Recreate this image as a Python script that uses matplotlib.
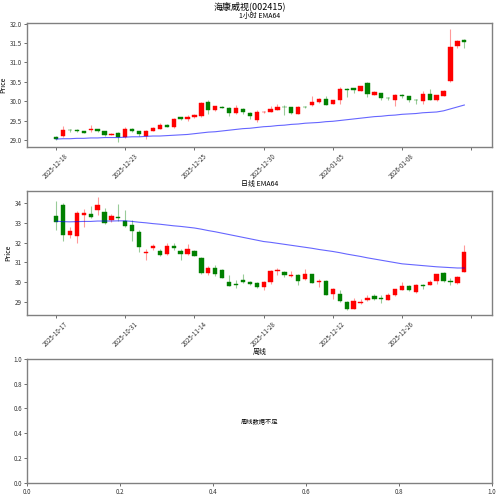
import numpy as np
import matplotlib
matplotlib.use('Agg')
import matplotlib.pyplot as plt
from matplotlib.ticker import FixedLocator, FormatStrFormatter

plt.rcParams['font.family'] = ['Noto Sans CJK SC', 'DejaVu Sans']
plt.rcParams['axes.unicode_minus'] = False

# 1小时 K线
h_open  = [29.08, 29.09, 29.26, 29.26, 29.22, 29.25, 29.27, 29.22, 29.13, 29.17,
           29.07, 29.28, 29.22, 29.10, 29.23, 29.29, 29.39, 29.33, 29.58, 29.54,
           29.58, 29.61, 29.99, 29.76, 29.86, 29.83, 29.69, 29.80, 29.70, 29.52,
           29.71, 29.73, 29.78, 29.86, 29.84, 29.67, 29.85, 29.89, 29.97, 30.05,
           29.93, 30.04, 30.32, 30.34, 30.27, 30.47, 30.17, 30.21, 30.09, 30.03,
           30.16, 30.14, 30.04, 30.00, 30.18, 30.02, 30.14, 30.51, 31.41, 31.57]
h_close = [29.02, 29.26, 29.25, 29.22, 29.19, 29.28, 29.23, 29.12, 29.15, 29.07,
           29.28, 29.22, 29.14, 29.24, 29.30, 29.39, 29.33, 29.55, 29.53, 29.60,
           29.64, 29.96, 29.77, 29.87, 29.83, 29.69, 29.81, 29.72, 29.62, 29.72,
           29.73, 29.80, 29.86, 29.84, 29.69, 29.86, 29.84, 29.97, 30.06, 29.91,
           30.02, 30.32, 30.29, 30.28, 30.40, 30.19, 30.23, 30.07, 30.07, 30.16,
           30.14, 30.03, 30.02, 30.19, 30.03, 30.15, 30.27, 31.40, 31.56, 31.53]
h_high  = [29.10, 29.35, 29.29, 29.27, 29.23, 29.38, 29.28, 29.23, 29.17, 29.20,
           29.32, 29.30, 29.23, 29.26, 29.32, 29.44, 29.40, 29.56, 29.60, 29.64,
           29.66, 29.97, 30.03, 29.88, 29.88, 29.84, 29.89, 29.82, 29.72, 29.77,
           29.74, 29.87, 29.92, 29.90, 29.85, 29.88, 29.88, 30.12, 30.08, 30.12,
           30.03, 30.36, 30.33, 30.35, 30.40, 30.50, 30.26, 30.22, 30.10, 30.19,
           30.18, 30.14, 30.05, 30.26, 30.31, 30.15, 30.28, 31.86, 31.57, 31.61]
h_low   = [29.00, 29.08, 29.20, 29.20, 29.18, 29.21, 29.21, 29.09, 29.12, 28.95,
           29.06, 29.20, 29.10, 29.02, 29.22, 29.27, 29.32, 29.30, 29.51, 29.49,
           29.57, 29.58, 29.66, 29.74, 29.82, 29.61, 29.68, 29.68, 29.55, 29.47,
           29.70, 29.71, 29.76, 29.64, 29.68, 29.66, 29.82, 29.88, 29.96, 29.90,
           29.92, 29.93, 30.10, 30.22, 30.26, 30.10, 30.16, 30.04, 30.02, 29.87,
           30.07, 29.99, 29.93, 29.92, 30.02, 30.01, 30.12, 30.50, 31.37, 31.37]
h_ema   = [29.02, 29.03, 29.03, 29.04, 29.04, 29.05, 29.05, 29.06, 29.06, 29.06,
           29.07, 29.08, 29.08, 29.09, 29.10, 29.10, 29.11, 29.12, 29.13, 29.14,
           29.16, 29.18, 29.20, 29.21, 29.23, 29.25, 29.27, 29.29, 29.30, 29.32,
           29.34, 29.35, 29.37, 29.38, 29.40, 29.41, 29.43, 29.44, 29.45, 29.47,
           29.48, 29.50, 29.52, 29.54, 29.56, 29.58, 29.60, 29.61, 29.63, 29.64,
           29.66, 29.67, 29.68, 29.70, 29.71, 29.72, 29.75, 29.80, 29.85, 29.90]
h_labels = ['2025-12-18', '2025-12-23', '2025-12-25', '2025-12-30',
            '2026-01-05', '2026-01-08', '']

# 日线 K线
d_open  = [33.35, 33.90, 32.37, 32.33, 33.38, 33.45, 33.63, 33.55, 33.12, 33.30,
           33.10, 32.90, 32.55, 31.48, 31.70, 31.58, 31.40, 31.82, 31.57, 31.40,
           31.55, 31.20, 30.47, 30.73, 30.63, 30.00, 29.93, 30.12, 30.02, 29.98,
           29.77, 30.02, 30.55, 30.52, 30.30, 30.35, 30.17, 30.40, 30.00, 30.07,
           29.40, 29.43, 29.02, 28.68, 28.95, 29.10, 29.30, 29.23, 29.13, 29.35,
           29.63, 29.83, 29.52, 29.88, 29.88, 30.05, 30.47, 30.07, 29.97, 30.52]
d_close = [33.05, 32.38, 32.58, 33.48, 33.47, 33.28, 33.90, 32.98, 33.35, 33.23,
           32.85, 32.60, 31.77, 31.53, 31.82, 31.37, 31.82, 31.72, 31.43, 31.68,
           31.33, 30.47, 30.73, 30.43, 30.23, 29.83, 29.88, 30.00, 29.90, 29.75,
           30.02, 30.58, 30.60, 30.35, 30.37, 30.08, 30.43, 29.98, 30.05, 29.38,
           29.68, 29.05, 28.68, 29.07, 29.03, 29.23, 29.18, 29.18, 29.38, 29.65,
           29.83, 29.60, 29.85, 29.83, 30.02, 30.40, 30.07, 30.02, 30.27, 31.52]
d_high  = [34.10, 34.00, 32.80, 33.60, 33.68, 33.83, 34.27, 33.72, 33.43, 33.95,
           33.63, 33.13, 32.63, 31.67, 31.93, 31.67, 31.97, 31.97, 31.68, 31.93,
           31.60, 31.27, 30.80, 30.88, 30.67, 30.35, 30.10, 30.42, 30.05, 30.00,
           30.05, 30.63, 30.72, 30.57, 30.55, 30.40, 30.68, 30.43, 30.15, 30.10,
           29.73, 29.60, 29.05, 29.23, 29.18, 29.38, 29.40, 29.35, 29.47, 29.68,
           30.03, 29.87, 29.90, 29.93, 30.13, 30.43, 30.50, 30.23, 30.30, 31.88]
d_low   = [32.63, 32.10, 32.23, 31.97, 32.80, 33.23, 33.38, 32.93, 33.02, 33.10,
           32.77, 32.07, 31.52, 31.10, 31.60, 31.33, 31.37, 31.60, 31.13, 31.35,
           31.30, 30.43, 30.38, 30.30, 30.20, 29.82, 29.73, 29.98, 29.85, 29.73,
           29.63, 29.93, 30.38, 30.27, 30.27, 29.88, 30.13, 29.97, 29.77, 29.35,
           29.15, 29.02, 28.63, 28.65, 28.93, 29.07, 29.10, 28.98, 29.10, 29.30,
           29.60, 29.55, 29.47, 29.65, 29.85, 29.93, 30.02, 29.85, 29.93, 30.50]
d_ema   = [33.07, 33.05, 33.04, 33.05, 33.06, 33.06, 33.08, 33.08, 33.08, 33.09,
           33.09, 33.06, 33.02, 32.99, 32.95, 32.92, 32.88, 32.84, 32.81, 32.77,
           32.73, 32.67, 32.60, 32.54, 32.47, 32.40, 32.33, 32.26, 32.19, 32.12,
           32.05, 32.01, 31.96, 31.91, 31.86, 31.81, 31.76, 31.71, 31.65, 31.60,
           31.55, 31.49, 31.42, 31.36, 31.30, 31.23, 31.17, 31.11, 31.05, 30.99,
           30.93, 30.90, 30.87, 30.84, 30.81, 30.78, 30.76, 30.74, 30.72, 30.72]
d_labels = ['2025-10-17', '2025-10-31', '2025-11-14', '2025-11-28',
            '2025-12-12', '2025-12-26', '']

TICK_STEP = 10


def candles(ax, o, h, l, c, ema, labels, title, ylim):
    o = np.array(o); h = np.array(h); l = np.array(l); c = np.array(c)
    x = np.arange(len(o))
    col = np.where(c >= o, 'red', 'green')
    ax.vlines(x, l, h, colors=col, alpha=0.4, linewidth=0.8)
    ax.bar(x, np.abs(c - o), bottom=np.minimum(o, c), width=0.62,
           color=col, edgecolor=col, linewidth=0.3)
    ax.plot(x, ema, color='blue', alpha=0.6, linewidth=0.8)
    ax.set_title(title, fontsize=5, pad=3.5)
    ax.set_ylabel('Price', fontsize=5, labelpad=2)
    ax.xaxis.set_major_locator(FixedLocator(np.arange(0, len(o) + 1, TICK_STEP)))
    ax.set_xticklabels(labels, rotation=45, fontsize=4.5)
    ax.set_xlim(-4.2, 63.0)
    ax.set_ylim(*ylim)


fig, axes = plt.subplots(3, 1, figsize=(5.0, 4.97), dpi=100)
plt.subplots_adjust(left=0.054, right=0.984, top=0.954, bottom=0.028, hspace=0.35)
fig.suptitle('海康威视(002415)', fontsize=6.5, y=0.997)

candles(axes[0], h_open, h_high, h_low, h_close, h_ema, h_labels,
        '1小时 EMA64', (28.81, 32.02))
axes[0].yaxis.set_major_formatter(FormatStrFormatter('%.1f'))
candles(axes[1], d_open, d_high, d_low, d_close, d_ema, d_labels,
        '日线 EMA64', (28.35, 34.6))

# 周线没有数据
ax = axes[2]
ax.set_title('周线', fontsize=5, pad=3.5)
ax.text(0.5, 0.5, '周线数据不足', ha='center', va='center', fontsize=4.5,
        transform=ax.transAxes)

for ax in axes:
    ax.tick_params(labelsize=4.5, length=2, width=0.5, pad=1.5, colors='#333333')
    for s in ax.spines.values():
        s.set_color('#808080')
        s.set_linewidth(1.0)

plt.savefig('out.png', dpi=100)
